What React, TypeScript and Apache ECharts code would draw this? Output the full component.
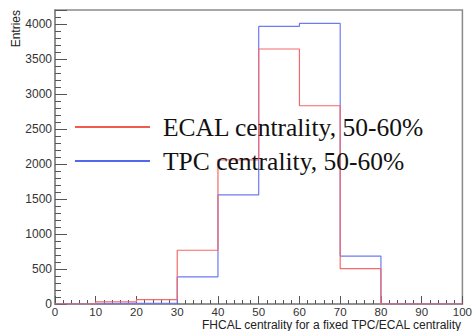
import React, { useEffect, useRef } from "react";
import * as echarts from "echarts";

const binEdges = [0, 10, 20, 30, 40, 50, 60, 70, 80, 90, 100];
const tpcValues = [0, 10, 12, 388, 1560, 3966, 4008, 685, 0, 0];
const ecalValues = [0, 30, 62, 768, 2060, 3643, 2832, 505, 0, 0];
const seriesNames = ["ECAL centrality, 50-60%", "TPC centrality, 50-60%"];
const xTitle = "FHCAL centrality for a fixed TPC/ECAL centrality";
const yTitle = "Entries";

function stepPoints(values: number[]): [number, number][] {
  const pts: [number, number][] = [];
  values.forEach((v, i) => {
    pts.push([binEdges[i], v]);
    pts.push([binEdges[i + 1], v]);
  });
  return pts;
}

export default function App() {
  const ref = useRef<HTMLDivElement>(null);
  useEffect(() => {
    if (!ref.current) return;
    const chart = echarts.init(ref.current, null, { renderer: "svg" });
    const red = "#f46a6a";
    const blue = "#6f78f5";
    const labelFont = { fontFamily: "Liberation Sans", fontSize: 12, color: "#333" };
    chart.setOption({
      animation: false,
      backgroundColor: "#fff",
      grid: {
        left: 55,
        right: 12,
        top: 10,
        bottom: 27,
        show: true,
        borderColor: "#8a8a8a",
        borderWidth: 1.5,
        backgroundColor: "transparent",
      },
      xAxis: {
        type: "value",
        min: 0,
        max: 100,
        interval: 10,
        axisLine: { show: true, lineStyle: { color: "#8a8a8a", width: 1.5 } },
        axisTick: { show: true, inside: true, length: 8, lineStyle: { color: "#555" } },
        minorTick: { show: true, splitNumber: 5, length: 4, lineStyle: { color: "#555" } },
        splitLine: { show: false },
        axisLabel: {
          ...labelFont,
          fontSize: 11.5,
          margin: 2,
          lineHeight: 11,
          formatter: (v: number) => String(v),
        },
      },
      yAxis: {
        type: "value",
        min: 0,
        max: 4200,
        interval: 500,
        axisLine: { show: true, lineStyle: { color: "#8a8a8a", width: 1.5 } },
        axisTick: { show: true, inside: true, length: 12, lineStyle: { color: "#555" } },
        minorTick: { show: true, splitNumber: 5, length: 6, lineStyle: { color: "#555" } },
        splitLine: { show: false },
        axisLabel: { ...labelFont, margin: 3, showMaxLabel: false, formatter: (v: number) => String(v) },
      },
      legend: {
        orient: "vertical",
        left: 70,
        top: 109,
        itemWidth: 75,
        itemHeight: 2,
        itemGap: 8,
        icon: "rect",
        textStyle: {
          fontFamily: "Liberation Serif",
          fontSize: 25.5,
          color: "#111",
          padding: [0, 0, 0, 8],
        },
        data: [
          { name: seriesNames[0], itemStyle: { color: "#f05a50" } },
          { name: seriesNames[1], itemStyle: { color: "#5566ee" } },
        ],
      },
      graphic: [
        {
          type: "text",
          x: 16,
          y: 10,
          rotation: Math.PI / 2,
          style: {
            text: yTitle,
            align: "right",
            verticalAlign: "middle",
            fontFamily: "Liberation Sans",
            fontSize: 12,
            fill: "#222",
          },
        },
        {
          type: "text",
          x: 461,
          y: 324.5,
          style: {
            text: xTitle,
            align: "right",
            verticalAlign: "middle",
            fontFamily: "Liberation Sans",
            fontSize: 12,
            lineHeight: 12,
            fill: "#222",
          },
        },
      ],
      series: [
        {
          name: seriesNames[1],
          type: "line",
          data: stepPoints(tpcValues),
          showSymbol: false,
          lineStyle: { color: blue, width: 1.2 },
          itemStyle: { color: blue },
          z: 2,
        },
        {
          name: seriesNames[0],
          type: "line",
          data: stepPoints(ecalValues),
          showSymbol: false,
          lineStyle: { color: red, width: 1.2 },
          itemStyle: { color: red },
          z: 3,
        },
      ],
    });
    return () => chart.dispose();
  }, []);
  return <div ref={ref} style={{ width: 475, height: 331, position: "absolute", left: 0, top: 0 }} />;
}
